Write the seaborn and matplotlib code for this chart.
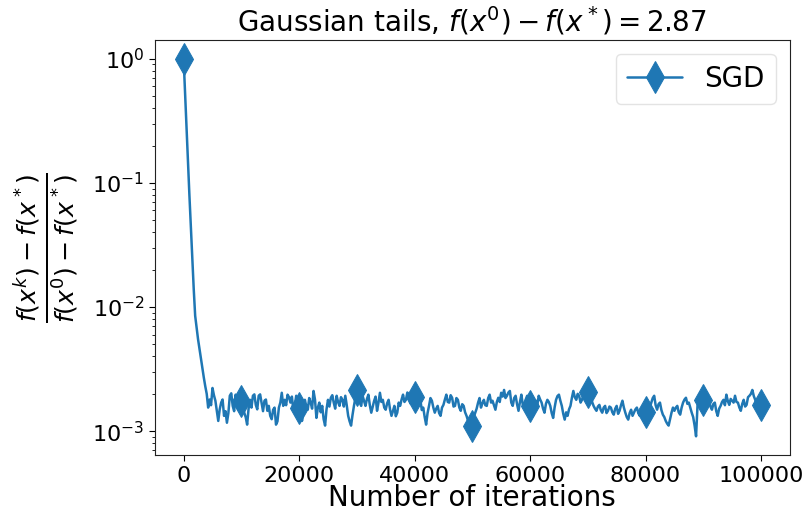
import numpy as np
import pandas as pd
import matplotlib
matplotlib.use("Agg")
import matplotlib.pyplot as plt
import seaborn as sns

# Relative optimality gap (f(x^k) - f(x*)) / (f(x^0) - f(x*)), logged every 250 iterations.
# gap_at_500 holds iterations 0, 500, ..., 100000; gap_at_250 holds 250, 750, ..., 99750.
iterations = list(range(0, 100001, 250))

gap_at_500 = [
    # 0 - 3500 (initial descent)
    1.0, 0.28, 0.08, 0.025, 0.0085, 0.0055, 0.0039, 0.0027,
    # 4000 - 9500
    2.00e-3, 1.80e-3, 2.23e-3, 1.76e-3, 1.21e-3, 1.70e-3, 1.33e-3, 1.17e-3, 1.93e-3, 1.60e-3, 1.97e-3, 1.49e-3,
    # 10000 - 19500
    1.76e-3, 1.41e-3, 1.13e-3, 1.79e-3, 1.93e-3, 1.63e-3, 1.93e-3, 1.70e-3, 1.76e-3, 1.46e-3,
    1.33e-3, 1.49e-3, 1.13e-3, 1.55e-3, 2.04e-3, 1.79e-3, 1.97e-3, 1.70e-3, 1.49e-3, 1.93e-3,
    # 20000 - 29500
    1.55e-3, 1.21e-3, 1.79e-3, 1.49e-3, 1.70e-3, 2.11e-3, 1.28e-3, 1.70e-3, 1.60e-3, 1.11e-3,
    1.79e-3, 1.86e-3, 1.70e-3, 1.93e-3, 1.60e-3, 1.79e-3, 1.93e-3, 1.33e-3, 1.11e-3, 1.60e-3,
    # 30000 - 39500
    2.15e-3, 1.70e-3, 1.93e-3, 1.60e-3, 1.97e-3, 1.41e-3, 1.76e-3, 1.46e-3, 2.04e-3, 1.79e-3,
    1.49e-3, 1.79e-3, 1.33e-3, 1.60e-3, 1.41e-3, 1.60e-3, 1.97e-3, 1.79e-3, 1.97e-3, 1.79e-3,
    # 40000 - 49500
    1.89e-3, 1.63e-3, 1.79e-3, 1.55e-3, 1.13e-3, 1.60e-3, 1.76e-3, 1.41e-3, 1.60e-3, 1.33e-3,
    1.63e-3, 1.97e-3, 1.70e-3, 1.86e-3, 1.60e-3, 1.79e-3, 1.46e-3, 1.60e-3, 1.33e-3, 1.17e-3,
    # 50000 - 59500
    1.11e-3, 1.41e-3, 1.70e-3, 1.55e-3, 1.79e-3, 1.60e-3, 1.97e-3, 1.76e-3, 1.49e-3, 1.86e-3,
    2.04e-3, 2.15e-3, 1.93e-3, 2.11e-3, 1.60e-3, 1.93e-3, 1.46e-3, 1.97e-3, 1.63e-3, 1.93e-3,
    # 60000 - 69500
    1.60e-3, 1.33e-3, 1.76e-3, 1.93e-3, 1.70e-3, 1.41e-3, 1.79e-3, 1.60e-3, 1.28e-3, 1.79e-3,
    1.97e-3, 1.60e-3, 1.24e-3, 1.33e-3, 1.60e-3, 2.11e-3, 1.79e-3, 1.93e-3, 1.79e-3, 2.11e-3,
    # 70000 - 79500
    2.08e-3, 1.93e-3, 1.60e-3, 1.46e-3, 1.63e-3, 1.41e-3, 1.60e-3, 1.46e-3, 1.55e-3, 1.36e-3,
    1.60e-3, 1.46e-3, 1.76e-3, 1.41e-3, 1.24e-3, 1.49e-3, 1.41e-3, 1.55e-3, 1.33e-3, 1.46e-3,
    # 80000 - 89500
    1.44e-3, 1.60e-3, 1.70e-3, 1.93e-3, 1.49e-3, 1.70e-3, 1.36e-3, 1.21e-3, 1.11e-3, 1.41e-3,
    1.46e-3, 1.60e-3, 1.36e-3, 1.70e-3, 1.86e-3, 1.70e-3, 1.41e-3, 1.11e-3, 1.60e-3, 1.93e-3,
    # 90000 - 100000
    1.79e-3, 1.63e-3, 1.79e-3, 1.49e-3, 1.70e-3, 1.33e-3, 1.60e-3, 1.79e-3, 1.97e-3, 1.63e-3,
    1.76e-3, 1.93e-3, 1.70e-3, 1.46e-3, 1.79e-3, 1.63e-3, 1.93e-3, 2.15e-3, 1.79e-3, 1.70e-3,
    1.63e-3,
]

gap_at_250 = [
    # 250 - 3750
    0.53, 0.15, 0.045, 0.014, 0.0068, 0.0046, 0.0032, 0.0023,
    # 4250 - 9750
    1.55e-3, 1.62e-3, 1.95e-3, 1.45e-3, 1.50e-3, 1.80e-3, 1.45e-3, 1.40e-3, 2.02e-3, 1.45e-3, 1.75e-3, 1.85e-3,
    # 10250 - 19750
    1.62e-3, 1.30e-3, 1.52e-3, 1.55e-3, 1.98e-3, 1.50e-3, 1.98e-3, 1.45e-3, 1.80e-3, 1.60e-3,
    1.25e-3, 1.55e-3, 1.20e-3, 1.70e-3, 1.60e-3, 1.62e-3, 1.88e-3, 1.90e-3, 1.60e-3, 1.70e-3,
    # 20250 - 29750
    1.68e-3, 1.45e-3, 1.58e-3, 1.85e-3, 1.52e-3, 1.80e-3, 1.55e-3, 1.42e-3, 1.25e-3, 1.50e-3,
    1.58e-3, 1.95e-3, 1.52e-3, 1.72e-3, 1.88e-3, 1.58e-3, 1.62e-3, 1.20e-3, 1.35e-3, 1.85e-3,
    # 30250 - 39750
    1.85e-3, 1.60e-3, 1.75e-3, 1.82e-3, 1.62e-3, 1.58e-3, 1.90e-3, 1.70e-3, 1.72e-3, 1.55e-3,
    1.68e-3, 1.50e-3, 1.45e-3, 1.32e-3, 1.70e-3, 1.80e-3, 1.72e-3, 2.05e-3, 1.68e-3, 2.00e-3,
    # 40250 - 49750
    1.70e-3, 1.92e-3, 1.48e-3, 1.30e-3, 1.40e-3, 1.85e-3, 1.55e-3, 1.52e-3, 1.40e-3, 1.55e-3,
    1.80e-3, 1.72e-3, 1.95e-3, 1.58e-3, 1.85e-3, 1.55e-3, 1.65e-3, 1.42e-3, 1.22e-3, 1.28e-3,
    # 50250 - 59750
    1.30e-3, 1.52e-3, 1.85e-3, 1.68e-3, 1.62e-3, 1.85e-3, 1.70e-3, 1.62e-3, 1.72e-3, 1.72e-3,
    1.90e-3, 1.85e-3, 2.05e-3, 1.70e-3, 1.85e-3, 1.65e-3, 1.72e-3, 1.62e-3, 1.80e-3, 1.75e-3,
    # 60250 - 69750
    1.45e-3, 1.62e-3, 1.62e-3, 1.80e-3, 1.52e-3, 1.66e-3, 1.72e-3, 1.40e-3, 1.55e-3, 1.92e-3,
    1.76e-3, 1.38e-3, 1.42e-3, 1.50e-3, 1.86e-3, 1.88e-3, 2.00e-3, 1.70e-3, 1.98e-3, 1.90e-3,
    # 70250 - 79750
    1.98e-3, 1.72e-3, 1.52e-3, 1.58e-3, 1.48e-3, 1.55e-3, 1.40e-3, 1.58e-3, 1.42e-3, 1.52e-3,
    1.38e-3, 1.62e-3, 1.55e-3, 1.30e-3, 1.40e-3, 1.33e-3, 1.50e-3, 1.40e-3, 1.48e-3, 1.36e-3,
    # 80250 - 89750
    1.55e-3, 1.55e-3, 1.85e-3, 1.62e-3, 1.65e-3, 1.48e-3, 1.30e-3, 1.15e-3, 1.25e-3, 1.55e-3,
    1.55e-3, 1.42e-3, 1.55e-3, 1.80e-3, 1.66e-3, 1.55e-3, 1.30e-3, 0.91e-3, 1.75e-3, 1.72e-3,
    # 90250 - 99750
    1.62e-3, 1.75e-3, 1.58e-3, 1.66e-3, 1.45e-3, 1.52e-3, 1.72e-3, 1.62e-3, 1.75e-3, 1.82e-3,
    1.70e-3, 1.72e-3, 1.55e-3, 1.66e-3, 1.58e-3, 1.88e-3, 2.00e-3, 1.92e-3, 1.62e-3, 1.80e-3,
]

method = "SGD"
title = r"Gaussian tails, $f(x^0) - f(x^*) = 2.87$"
y_label = r"$\genfrac{}{}{2.6}{1}{f(x^k) - f(x^*)}{f(x^0) - f(x^*)}$"
x_label = "Number of iterations"
x_ticks = [0, 20000, 40000, 60000, 80000, 100000]

# Interleave the two logging grids into one series
gap = []
for i, g in enumerate(gap_at_500):
    gap.append(g)
    if i < len(gap_at_250):
        gap.append(gap_at_250[i])
assert len(gap) == len(iterations)
df = pd.DataFrame({"iteration": iterations, "gap": gap, "method": method})

sns.set_style("ticks")
plt.rcParams["font.family"] = ["DejaVu Sans"]
plt.rcParams["mathtext.fontset"] = "dejavusans"
plt.rcParams["text.color"] = "black"
plt.rcParams["axes.labelcolor"] = "black"
plt.rcParams["xtick.color"] = "black"
plt.rcParams["ytick.color"] = "black"

fig = plt.figure(figsize=(8.06, 5.12), dpi=100)
ax = fig.add_axes([0.192, 0.111, 0.788, 0.811])

color = "#1f77b4"
sns.lineplot(
    data=df, x="iteration", y="gap", hue="method", estimator=None,
    palette=[color], marker="d", markersize=16, markevery=40,
    linewidth=1.8, markeredgecolor=color, ax=ax,
)
ax.set_yscale("log")

for side in ["top", "right", "left", "bottom"]:
    ax.spines[side].set_visible(True)
    ax.spines[side].set_color("#222222")

ax.set_title(title, fontsize=20)
ax.set_xlabel(x_label, fontsize=20, labelpad=-1)
ax.set_ylabel(y_label, fontsize=26, labelpad=8)
ax.tick_params(axis="both", which="major", labelsize=16, length=4)
ax.tick_params(axis="y", which="minor", length=2.5, left=True)
ax.set_xticks(x_ticks)

leg = ax.legend(loc="upper right", fontsize=20, title=None)
leg.get_frame().set_edgecolor("#dddddd")

fig.savefig("out.png", dpi=100)
